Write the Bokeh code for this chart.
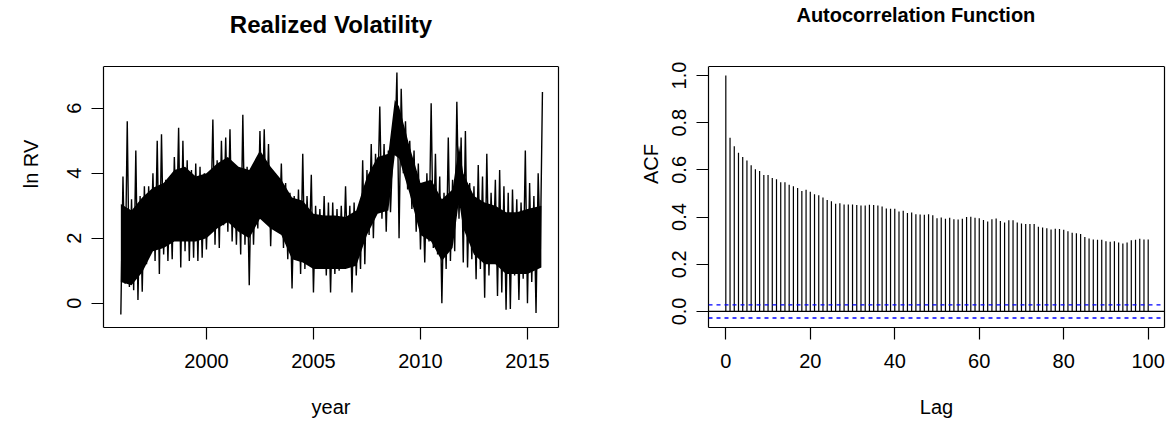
import numpy as np
from bokeh.plotting import figure
from bokeh.layouts import row
from bokeh.models import (Range1d, FixedTicker, PrintfTickFormatter, Span, Label,
                          LinearAxis)
from bokeh.embed import file_html
from bokeh.resources import INLINE

FONT = "Liberation Sans"

# ---------------- data: realized volatility (ln RV), read as low/high per 0.2-year bin
bin_year = np.round(np.arange(1996.0, 2015.61, 0.2), 1)
rv_high = [3.9, 5.6, 3.2, 4.7, 3.3,
           3.6, 3.6, 4.0, 5.0, 5.2,
           3.8, 3.7, 4.5, 5.4, 5.0,
           4.4, 4.1, 4.3, 4.2, 4.0,
           3.9, 5.65, 4.4, 5.0, 5.1,
           5.35, 4.0, 4.1, 5.8, 4.2,
           4.1, 4.0, 5.3, 5.35, 4.9,
           4.0, 3.8, 4.3, 3.7, 3.4,
           3.3, 3.5, 4.6, 3.3, 3.95,
           3.0, 2.9, 3.3, 3.1, 3.1,
           2.9, 3.0, 3.6, 3.0, 3.1,
           2.6, 4.4, 4.1, 4.9, 4.6,
           6.05, 4.9, 4.7, 4.6, 7.1,
           6.6, 5.6, 5.0, 4.7, 4.3,
           3.7, 4.0, 6.15, 4.6, 3.9,
           3.4, 5.1, 3.8, 6.2, 5.1,
           5.3, 3.7, 3.6, 4.25, 3.9,
           4.6, 3.4, 3.8, 4.1, 3.6,
           3.4, 3.5, 3.2, 3.1, 4.7,
           3.7, 3.3, 4.0, 6.5]
rv_low = [-0.35, 0.6, 0.5, 0.4, 0.1,
          0.35, 1.2, 1.6, 1.3, 0.9,
          1.5, 1.3, 1.35, 2.2, 1.1,
          1.6, 1.3, 1.4, 1.3, 1.4,
          1.65, 2.4, 1.8, 1.7, 2.4,
          2.2, 1.9, 1.8, 1.5, 1.8,
          0.55, 1.8, 2.3, 2.6, 2.5,
          1.75, 2.3, 2.2, 1.7, 1.35,
          0.45, 1.4, 0.9, 1.05, 1.6,
          0.33, 1.2, 1.1, 0.85, 0.33,
          0.9, 1.0, 1.15, 1.2, 0.33,
          0.85, 1.05, 1.2, 2.1, 2.0,
          3.1, 2.6, 2.2, 2.8, 4.6,
          2.0, 4.0, 3.5, 2.9, 2.2,
          1.65, 1.25, 1.9, 1.7, 1.5,
          0.0, 1.05, 1.3, 1.6, 2.6,
          1.25, 1.1, 1.35, 0.74, 1.05,
          0.17, 0.85, 1.35, 0.22, 0.33,
          -0.2, -0.18, 0.85, 0.1, 0.75,
          0.0, 0.65, -0.3, 1.6]
# solid (densely over-plotted) core of the daily series
core_year = [1996.0, 1996.5, 1997.0, 1997.5, 1998.0, 1998.5, 1999.0, 1999.5,
             2000.0, 2000.5, 2001.0, 2001.5, 2002.0, 2002.5, 2003.0, 2003.5,
             2004.0, 2004.5, 2005.0, 2005.5, 2006.0, 2006.5, 2007.0, 2007.5,
             2008.0, 2008.5, 2008.8, 2009.0, 2009.5, 2010.0, 2010.5, 2011.0,
             2011.5, 2011.8, 2012.0, 2012.5, 2013.0, 2013.5, 2014.0, 2014.5,
             2015.0, 2015.65]
core_low = [0.65, 0.55, 0.95, 1.6, 1.7, 1.9, 1.9, 1.9,
            2.0, 2.3, 2.5, 2.2, 2.0, 2.6, 2.3, 2.1,
            1.35, 1.25, 1.05, 1.05, 1.05, 1.05, 1.15, 2.1,
            2.75, 2.85, 4.55, 4.45, 3.35, 2.1, 1.9, 1.3,
            1.7, 3.15, 2.3, 1.5, 1.2, 1.2, 0.9, 0.9,
            0.9, 1.1]
core_high = [3.05, 2.85, 3.25, 3.55, 3.7, 4.1, 4.2, 3.9,
             4.0, 4.3, 4.5, 4.2, 4.1, 4.7, 4.2, 3.8,
             3.25, 3.15, 2.75, 2.7, 2.7, 2.65, 2.85, 3.9,
             4.5, 4.6, 6.25, 6.05, 4.8, 3.7, 3.8, 3.2,
             3.5, 4.85, 4.0, 3.3, 3.1, 3.0, 2.8, 2.8,
             2.9, 3.0]
year_ticks = [2000, 2005, 2010, 2015]
rv_ticks = [0, 2, 4, 6]

# ---------------- data: autocorrelation function, lags 0..100
lags = list(range(0, 101))
acf = [1.0, 0.736, 0.70, 0.672, 0.654, 0.64, 0.62, 0.603, 0.595, 0.578,
       0.578, 0.565, 0.56, 0.547, 0.547, 0.537, 0.531, 0.523, 0.51, 0.516,
       0.507, 0.497, 0.492, 0.483, 0.472, 0.467, 0.456, 0.459, 0.453, 0.453,
       0.453, 0.451, 0.449, 0.449, 0.452, 0.451, 0.449, 0.445, 0.436, 0.435,
       0.435, 0.424, 0.427, 0.417, 0.419, 0.412, 0.411, 0.410, 0.412, 0.408,
       0.395, 0.398, 0.393, 0.397, 0.391, 0.390, 0.393, 0.400, 0.401, 0.397,
       0.395, 0.388, 0.381, 0.391, 0.394, 0.383, 0.377, 0.386, 0.386, 0.377,
       0.373, 0.371, 0.371, 0.371, 0.359, 0.356, 0.353, 0.347, 0.350, 0.349,
       0.346, 0.340, 0.333, 0.331, 0.328, 0.315, 0.309, 0.305, 0.304, 0.304,
       0.297, 0.295, 0.297, 0.292, 0.288, 0.292, 0.302, 0.304, 0.308, 0.305,
       0.305]
ci = 0.0277
lag_ticks = [0, 20, 40, 60, 80, 100]
acf_ticks = [0.0, 0.2, 0.4, 0.6, 0.8, 1.0]

# plot boxes (data units); the frame also covers the title area above each box
RV_X = (1995.19, 2016.45)
RV_Y = (-0.748, 7.283)
RV_YTOP = 9.314
ACF_X = (-4.1, 103.86)
ACF_Y = (-0.068, 1.038)
ACF_YTOP = 1.3177


def kill_title(p):
    try:
        p.title = None
    except Exception:
        p.title.text = ""
        p.title.standoff = 0


def style(p, ybounds, ylab_standoff):
    p.grid.visible = False
    p.background_fill_color = "white"
    p.border_fill_color = "white"
    p.outline_line_color = None
    for ax in p.axis:
        ax.axis_line_color = "black"
        ax.axis_line_width = 1.2
        ax.major_tick_line_color = "black"
        ax.major_tick_line_width = 1.2
        ax.major_tick_out = 12
        ax.major_tick_in = 0
        ax.minor_tick_line_color = None
        ax.major_label_text_font = FONT
        ax.major_label_text_font_size = "20px"
        ax.major_label_text_color = "black"
        ax.axis_label_text_font = FONT
        ax.axis_label_text_font_size = "20px"
        ax.axis_label_text_font_style = "normal"
        ax.axis_label_text_color = "black"
    p.xaxis.major_label_standoff = 14
    p.xaxis.axis_label_standoff = 25
    p.yaxis.major_label_orientation = "vertical"
    p.yaxis.major_label_standoff = 10
    p.yaxis.axis_label_standoff = ylab_standoff
    p.yaxis.bounds = ybounds


def close_box(p, ybounds):
    # right edge and top edge of the R-style box
    rax = LinearAxis(ticker=FixedTicker(ticks=[]), bounds=ybounds,
                     axis_line_color="black", axis_line_width=1.2,
                     major_tick_line_color=None, minor_tick_line_color=None,
                     major_tick_out=0, major_tick_in=0, major_label_standoff=0,
                     major_label_text_font_size="1px")
    p.add_layout(rax, "right")
    p.add_layout(Span(location=ybounds[1], dimension="width", line_color="black",
                      line_width=1.2))


# ---------------- left: Realized Volatility
p1 = figure(width=593, height=429, output_backend="svg", toolbar_location=None,
            x_range=Range1d(*RV_X), y_range=Range1d(RV_Y[0], RV_YTOP),
            min_border_left=103, min_border_right=35, min_border_top=0,
            min_border_bottom=102)
kill_title(p1)
p1.varea(x=core_year, y1=core_low, y2=core_high, fill_color="black")
xs, ys = [], []
for t, lo, hi in zip(bin_year, rv_low, rv_high):
    xs += [t, t + 0.1]
    ys += [lo, hi]
p1.line(xs, ys, line_color="black", line_width=1.4)
style(p1, RV_Y, 23)
p1.xaxis.ticker = FixedTicker(ticks=year_ticks)
p1.yaxis.ticker = FixedTicker(ticks=rv_ticks)
p1.xaxis.axis_label = "year"
p1.yaxis.axis_label = "ln RV"
close_box(p1, RV_Y)
p1.add_layout(Label(x=(RV_X[0] + RV_X[1]) / 2, y=8.575, text="Realized Volatility",
                    text_align="center", text_baseline="alphabetic", text_font=FONT,
                    text_font_size="24px", text_font_style="bold", text_color="black"))

# ---------------- right: Autocorrelation Function
p2 = figure(width=577, height=429, output_backend="svg", toolbar_location=None,
            x_range=Range1d(*ACF_X), y_range=Range1d(ACF_Y[0], ACF_YTOP),
            min_border_left=115, min_border_right=6, min_border_top=0,
            min_border_bottom=102)
kill_title(p2)
p2.segment(x0=lags, y0=[0] * len(lags), x1=lags, y1=acf, line_color="black", line_width=1.2)
p2.add_layout(Span(location=0, dimension="width", line_color="black", line_width=1.2))
for c in (ci, -ci):
    p2.add_layout(Span(location=c, dimension="width", line_color="#0000FF",
                       line_width=1.3, line_dash="4 4"))
style(p2, ACF_Y, 8)
p2.xaxis.ticker = FixedTicker(ticks=lag_ticks)
p2.yaxis.ticker = FixedTicker(ticks=acf_ticks)
p2.yaxis.formatter = PrintfTickFormatter(format="%.1f")
p2.xaxis.axis_label = "Lag"
p2.yaxis.axis_label = "ACF"
close_box(p2, ACF_Y)
p2.add_layout(Label(x=45, y=1.2583, text="Autocorrelation Function",
                    text_align="center", text_baseline="alphabetic", text_font=FONT,
                    text_font_size="20px", text_font_style="bold", text_color="black"))

layout = row(p1, p2)
open("out.html", "w").write(file_html(layout, INLINE))
